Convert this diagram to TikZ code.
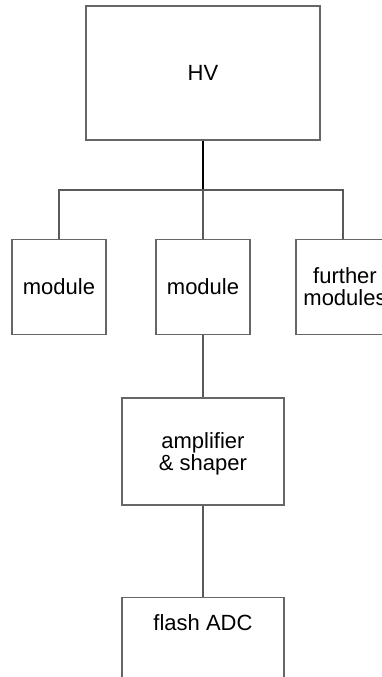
\documentclass[tikz,border=0pt]{standalone}
\usepackage{fontspec}
\setmainfont{Liberation Sans}
\begin{document}
\begin{tikzpicture}[x=1pt,y=-1pt,
  box/.style={draw=black!60, line width=1.2pt, inner sep=0pt, fill=none},
  lbl/.style={font=\fontsize{22}{22}\selectfont, align=center, inner sep=0pt},
  wire/.style={draw=black!65, line width=1.2pt},
  hvwire/.style={draw=black, line width=1.6pt}]
\useasboundingbox (0,0) rectangle (382,677);
\clip (0,0) rectangle (382,677);
% boxes
\node[box, minimum width=234pt, minimum height=134pt] (hv) at (203,73) {};
\node[lbl] (hvt) at (203,73) {HV};
\node[box, minimum width=94pt, minimum height=95pt] (m1) at (59,287) {};
\node[lbl] (m1t) at (59,287) {module};
\node[box, minimum width=94pt, minimum height=95pt] (m2) at (203,287) {};
\node[lbl] (m2t) at (203,287) {module};
\node[box, minimum width=94pt, minimum height=95pt] (m3) at (343,287) {};
\node[lbl] (m3t) at (345,287) {further\\modules};
\node[box, minimum width=162pt, minimum height=107pt] (amp) at (203,451.5) {};
\node[lbl] (ampt) at (203,454) {amplifier\\\& shaper};
\node[box, minimum width=162pt, minimum height=140pt, anchor=north] (adc) at (203,597) {};
\node[lbl] (adct) at (203,623) {flash ADC};
% connectors
\coordinate (bus) at (203,190);
\draw[hvwire] (hv.south) -- (bus);
\draw[wire] (m1.north) |- (bus);
\draw[wire] (m3.north) |- (bus);
\draw[wire] (bus) -- (m2.north);
\draw[wire] (m2.south) -- (amp.north);
\draw[wire] (amp.south) -- (adc.north);
\end{tikzpicture}
\end{document}
